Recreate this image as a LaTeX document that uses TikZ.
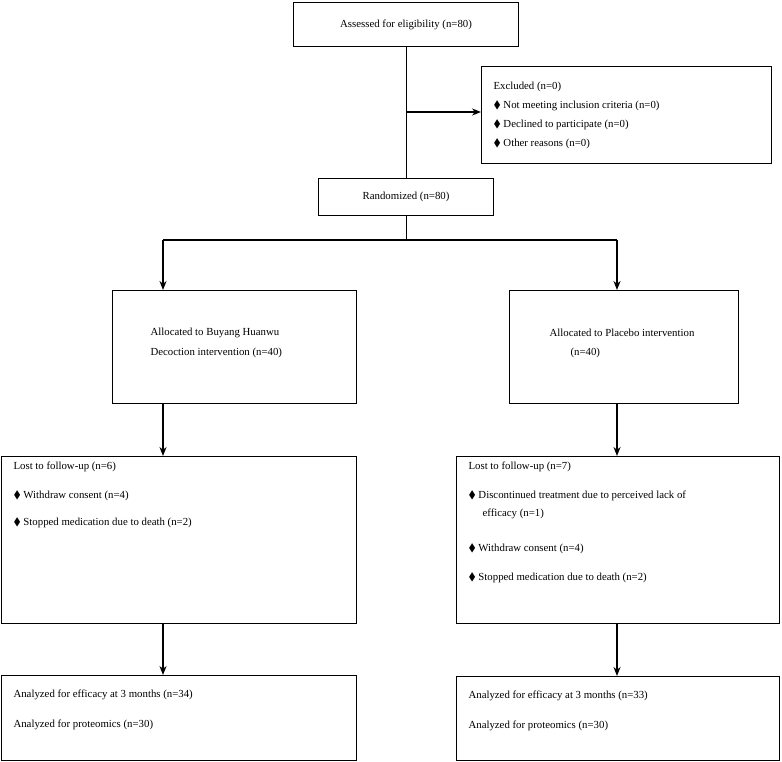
\documentclass[tikz,border=0pt]{standalone}
\usepackage{amssymb}
\usepackage{fontspec}
\setmainfont{Liberation Serif}
\usetikzlibrary{positioning, arrows.meta}
\newcommand{\bul}{$\blacklozenge$\ }
\begin{document}
\begin{tikzpicture}[x=1pt, y=-1pt, font=\fontsize{10.8}{12}\selectfont, line width=1.1pt,
		box/.style={draw, minimum width=#1, anchor=north west, inner sep=0pt},
		t/.style={anchor=west, inner sep=0pt},
		arr/.style={-{Stealth[length=9pt, width=7pt]}, line width=1.5pt}]
		\useasboundingbox (0,0) rectangle (782,762);

		\node[box=225pt, minimum height=44pt] (assess) at (293,2) {};
		\node[box=290pt, minimum height=97pt] (excl) at (481,66) {};
		\node[box=175pt, minimum height=37pt] (rand) at (318,178) {};
		\node[box=244pt, minimum height=113pt] (allocL) at (112,290) {};
		\node[box=229pt, minimum height=113pt] (allocR) at (509,290) {};
		\node[box=355pt, minimum height=167pt] (lostL) at (1,456) {};
		\node[box=323pt, minimum height=167pt] (lostR) at (456,456) {};
		\node[box=355pt, minimum height=85pt] (anaL) at (1,675) {};
		\node[box=323pt, minimum height=84pt] (anaR) at (456,676) {};

		\node at (assess.center) {Assessed for eligibility (n=80)};
		\node[t] at (493,87) {Excluded (n=0)};
		\node[t] at (493,106) {\bul Not meeting inclusion criteria (n=0)};
		\node[t] at (493,125) {\bul Declined to participate (n=0)};
		\node[t] at (493,144) {\bul Other reasons (n=0)};
		\node at (rand.center) {Randomized (n=80)};
		\node[t] at (150,333) {Allocated to Buyang Huanwu};
		\node[t] at (150,353) {Decoction intervention (n=40)};
		\node[t] at (549,333) {Allocated to Placebo intervention};
		\node[t] at (570,353) {(n=40)};
		\node[t] at (13,467) {Lost to follow-up (n=6)};
		\node[t] at (13,496) {\bul Withdraw consent (n=4)};
		\node[t] at (13,523) {\bul Stopped medication due to death (n=2)};
		\node[t] at (468,467) {Lost to follow-up (n=7)};
		\node[t] at (468,496) {\bul Discontinued treatment due to perceived lack of};
		\node[t] at (482,514) {efficacy (n=1)};
		\node[t] at (468,549) {\bul Withdraw consent (n=4)};
		\node[t] at (468,578) {\bul Stopped medication due to death (n=2)};
		\node[t] at (13,695) {Analyzed for efficacy at 3 months (n=34)};
		\node[t] at (13,725) {Analyzed for proteomics (n=30)};
		\node[t] at (468,696) {Analyzed for efficacy at 3 months (n=33)};
		\node[t] at (468,726) {Analyzed for proteomics (n=30)};

		\coordinate (split) at (rand.south |- 0,240);
		\coordinate (excljoin) at (assess.south |- 0,112);
		\draw (assess.south) -- (rand.north);
		\draw[arr] (excljoin) -- (excl.west |- excljoin);
		\draw (rand.south) -- (split);
		\draw (split) -- (163,240) (split) -- (617,240);
		\draw[arr] (163,240) -- (allocL.north -| 163,0);
		\draw[arr] (617,240) -- (allocR.north -| 617,0);
		\draw[arr] (allocL.south -| 163,0) -- (lostL.north -| 163,0);
		\draw[arr] (allocR.south -| 617,0) -- (lostR.north -| 617,0);
		\draw[arr] (lostL.south -| 163,0) -- (anaL.north -| 163,0);
		\draw[arr] (lostR.south -| 617,0) -- (anaR.north -| 617,0);
	\end{tikzpicture}
\end{document}
